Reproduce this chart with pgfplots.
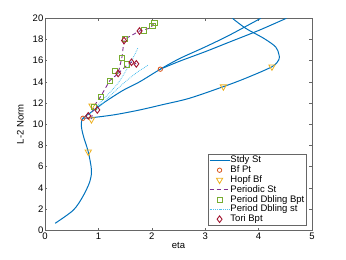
\documentclass[border=0pt]{standalone}
\usepackage{pgfplots}
\pgfplotsset{compat=1.18}
\usepackage{fontspec}
\setmainfont{Liberation Sans}
\definecolor{mblue}{RGB}{0,114,189}
\definecolor{morange}{RGB}{217,83,25}
\definecolor{myellow}{RGB}{237,177,32}
\definecolor{mpurple}{RGB}{126,47,142}
\definecolor{mgreen}{RGB}{119,172,48}
\definecolor{mcyan}{RGB}{77,190,238}
\definecolor{mred}{RGB}{162,20,47}
\begin{document}
\begin{tikzpicture}
\begin{axis}[
  name=ax,
  scale only axis,
  width=267pt, height=212pt,
  xmin=0, xmax=5, ymin=0, ymax=20,
  xtick={0,1,2,3,4,5}, ytick={0,2,...,20},
  tick align=inside, major tick length=2.5pt,
  axis line style={black!60, line width=0.5pt},
  every tick/.style={black!60, line width=0.5pt},
  font=\fontsize{9.5}{11}\selectfont,
  /pgf/number format/assume math mode=true,
  yticklabel style={inner sep=1.5pt},
  xticklabel style={inner sep=2pt},
  xlabel={eta}, ylabel={L-2 Norm},
  xlabel style={yshift=2pt},
  ylabel style={yshift=4pt},
  legend cell align=left,
  legend style={at={(rel axis cs:1,0)}, anchor=south east, xshift=-6pt, yshift=5pt,
    font=\fontsize{9.5}{9.5}\selectfont, draw=black!60, inner sep=1pt,
    nodes={inner sep=0.4pt, text height=7pt, text depth=2pt}},
  legend image code/.code={\draw[mark repeat=2,mark phase=2,#1] plot coordinates {(0pt,0pt) (10pt,0pt) (20pt,0pt)};},
]
% steady states
\addplot[mblue, line width=1pt, smooth] coordinates {
(0.19,0.66) (0.53,1.9) (0.71,3.2) (0.84,4.6) (0.87,5.7) (0.81,7.4) (0.73,8.7) (0.69,9.5) (0.68,10.1) (0.71,10.57)
(0.84,11.05) (1.09,12.0) (1.46,13.2) (1.77,14.0) (2.16,15.2) (2.52,16.2) (3.0,17.3) (3.45,18.4) (4.04,20)};
\addlegendentry{Stdy St}
\addplot[mblue, line width=1pt, smooth, forget plot] coordinates {
(0.71,10.57) (0.87,10.62) (1.3,10.9) (1.77,11.35) (2.2,11.85) (2.7,12.45) (3.34,13.55) (3.76,14.35) (4.25,15.43) (4.38,16.1) (4.38,16.6) (4.32,17.3) (4.10,18.1) (3.76,19.05) (3.51,20)};
\addplot[mblue, line width=1pt, smooth, forget plot] coordinates {
(2.16,15.2) (2.52,15.95) (3.0,16.85) (3.45,17.75) (4.0,18.85) (4.52,20)};
% dotted period doubling states
\addplot[mcyan, line width=0.8pt, densely dotted, smooth, forget plot] coordinates {
(0.84,11.0) (1.1,12.4) (1.37,13.9) (1.6,15.8) (1.74,17.2)};
\addplot[mcyan, line width=0.8pt, densely dotted, smooth, forget plot] coordinates {
(0.95,11.3) (1.2,12.6) (1.5,14.0) (1.75,15.0) (1.85,15.3) (1.93,15.6)};
% purple periodic (second piece)
\addplot[mpurple, line width=0.9pt, dash pattern=on 4pt off 3pt, forget plot] coordinates {
(1.37,14.8) (1.54,15.6) (1.62,15.85) (1.71,15.7)};
% Bf points
\addplot[only marks, mark=o, mark size=2.2pt, color=morange, mark options={line width=0.8pt}] coordinates {
(0.71,10.57) (2.16,15.2)};
\addlegendentry{Bf Pt}
% Hopf
\addplot[only marks, mark=triangle, mark size=3.6pt, color=myellow, mark options={rotate=180, line width=0.8pt}] coordinates {
(0.81,7.4) (0.87,10.45) (0.88,11.75) (3.34,13.55) (4.25,15.43)};
\addlegendentry{Hopf Bf}
% periodic
\addplot[mpurple, line width=0.9pt, dash pattern=on 4pt off 3pt] coordinates {
(0.87,10.5) (0.91,11.66) (1.04,12.6) (1.21,14.1) (1.37,14.8) (1.44,16.3) (1.48,17.9) (1.50,18.05) (1.77,18.8) (1.85,18.9) (1.98,19.1) (2.02,19.4) (2.05,19.6)};
\addlegendentry{Periodic St}
% period doubling bpt
\addplot[only marks, mark=square, mark size=2.6pt, color=mgreen, mark options={line width=0.8pt}] coordinates {
(2.05,19.6) (2.01,19.3) (1.85,18.85) (1.50,18.05) (1.44,16.3) (1.54,15.65) (1.31,15.0) (1.21,14.1) (1.04,12.6) (0.91,11.66)};
\addlegendentry{Period Dbling Bpt}
\addlegendimage{mcyan, line width=0.9pt, densely dotted}
\addlegendentry{Period Dbling st}
% tori
\addplot[only marks, mark=diamond, mark size=3.3pt, color=mred, mark options={line width=0.9pt}] coordinates {
(1.77,18.8) (1.48,17.9) (1.62,15.85) (1.71,15.7) (1.37,14.8) (0.98,11.35) (0.81,10.8)};
\addlegendentry{Tori Bpt}
\end{axis}
\path (ax.south west) ++(-45pt,-29.7pt) rectangle ++(346pt,260pt);
\end{tikzpicture}
\end{document}
